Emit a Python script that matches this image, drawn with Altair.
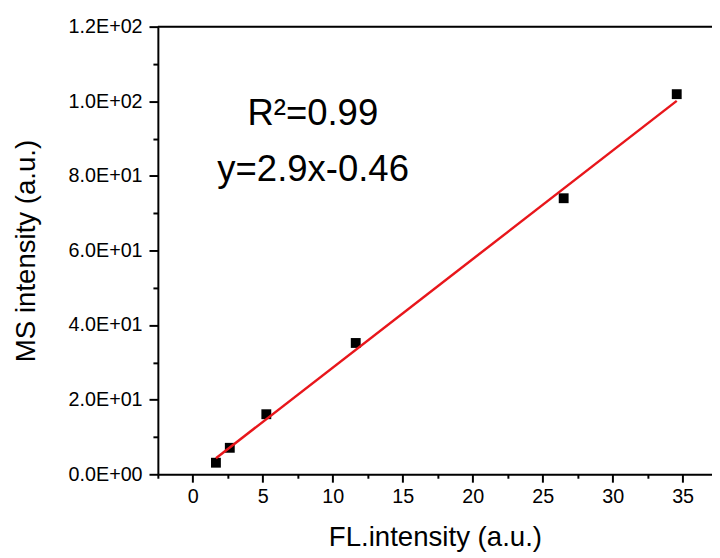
import altair as alt
import pandas as pd

# Data
fl_intensity = [1.65, 2.64, 5.25, 11.64, 26.5, 34.58]
ms_intensity = [3.1, 7.1, 16.1, 35.2, 74.0, 101.9]
fit_x = [1.65, 34.58]
fit_y = [4.3, 100.1]

x_major = [0, 5, 10, 15, 20, 25, 30, 35]
x_minor = [-2.5, 2.5, 7.5, 12.5, 17.5, 22.5, 27.5, 32.5]
y_major = [0, 20, 40, 60, 80, 100, 120]
y_minor = [10, 30, 50, 70, 90, 110]
y_labels = ["0.0E+00", "2.0E+01", "4.0E+01", "6.0E+01", "8.0E+01", "1.0E+02", "1.2E+02"]
annotations = ["R²=0.99", "y=2.9x-0.46"]

FONT = "Liberation Sans"

pts = pd.DataFrame({"fl": fl_intensity, "ms": ms_intensity})
fit = pd.DataFrame({"fl": fit_x, "ms": fit_y})
one = pd.DataFrame({"k": [0]})

x_scale = alt.Scale(domain=[-2.5, 37.1], nice=False, zero=False)
y_scale = alt.Scale(domain=[0, 120], nice=False, zero=False)

y_label_expr = (
    "indexof(" + str(y_major) + ", datum.value) >= 0 ? "
    + str(y_labels).replace("'", '"') + "[indexof(" + str(y_major) + ", datum.value)] : ''"
)

common = dict(
    titleFontWeight="normal", titleFont=FONT, titleColor="black",
    labelFont=FONT, labelColor="black",
    tickWidth=2, tickColor="black", domainWidth=2, domainColor="black",
    grid=False, labelFlush=False, labelOverlap=False,
)

x_axis = alt.Axis(
    orient="bottom", values=x_major, format="d",
    title="FL.intensity (a.u.)", titleFontSize=28, labelFontSize=20,
    tickSize=8, labelPadding=5, titlePadding=17, **common,
)
x_axis_minor = alt.Axis(
    orient="bottom", values=x_minor, labels=False, title=None, domain=False,
    tickSize=4, tickWidth=2, tickColor="black", grid=False,
)

y_axis = alt.Axis(
    orient="left", values=y_major, labelExpr=y_label_expr,
    title="MS intensity (a.u.)", titleFontSize=28, labelFontSize=20,
    tickSize=9, labelPadding=7, titlePadding=28, **common,
)
y_axis_minor = alt.Axis(
    orient="left", values=y_minor, labels=False, title=None, domain=False,
    tickSize=5, tickWidth=2, tickColor="black", grid=False,
)

top_border = alt.Chart(one).mark_rule(color="black", strokeWidth=2).encode(
    y=alt.YDatum(120, scale=y_scale, axis=None)
)

minor_layer = alt.Chart(pts).mark_point(opacity=0).encode(
    x=alt.X("fl:Q", scale=x_scale, axis=x_axis_minor),
    y=alt.Y("ms:Q", scale=y_scale, axis=y_axis_minor),
)

line = alt.Chart(fit).mark_line(color="#e8161b", strokeWidth=2.5).encode(
    x=alt.X("fl:Q", scale=x_scale, axis=None),
    y=alt.Y("ms:Q", scale=y_scale, axis=None),
)

points = alt.Chart(pts).mark_square(size=100, color="black", opacity=1).encode(
    x=alt.X("fl:Q", scale=x_scale, axis=x_axis),
    y=alt.Y("ms:Q", scale=y_scale, axis=y_axis),
)

txt1 = alt.Chart(one).mark_text(
    align="left", baseline="alphabetic", fontSize=37, font=FONT, color="black"
).encode(
    x=alt.XDatum(3.9, scale=x_scale, axis=None),
    y=alt.YDatum(93.7, scale=y_scale, axis=None),
    text=alt.TextDatum(annotations[0]),
)

txt2 = alt.Chart(one).mark_text(
    align="left", baseline="alphabetic", fontSize=37, font=FONT, color="black"
).encode(
    x=alt.XDatum(1.75, scale=x_scale, axis=None),
    y=alt.YDatum(78.7, scale=y_scale, axis=None),
    text=alt.TextDatum(annotations[1]),
)

chart = alt.layer(points, minor_layer, top_border, line, txt1, txt2).resolve_axis(
    x="independent", y="independent"
).properties(
    width=562,
    height=454,
    autosize=alt.AutoSizeParams(type="none"),
    padding={"left": 152, "top": 15, "right": 0, "bottom": 81},
).configure_view(stroke=None).configure(background="white")

chart.save("out.html", embed_options={"renderer": "svg", "actions": False})
